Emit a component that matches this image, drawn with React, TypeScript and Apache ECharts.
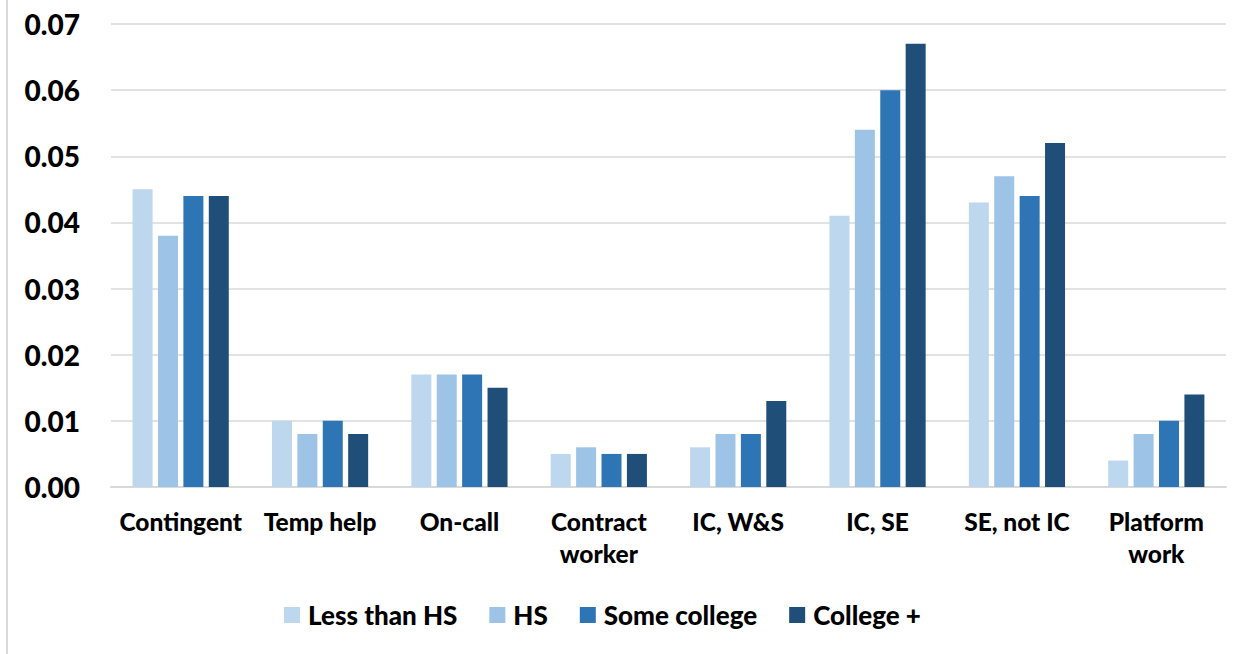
import React, { useEffect, useRef } from "react";
import * as echarts from "echarts";

const categories = [
  "Contingent",
  "Temp help",
  "On-call",
  "Contract\nworker",
  "IC, W&S",
  "IC, SE",
  "SE, not IC",
  "Platform\nwork",
];

const seriesNames = ["Less than HS", "HS", "Some college", "College +"];
const seriesColors = ["#BDD7EE", "#9DC3E6", "#2E75B6", "#1F4E79"];

const lessThanHS = [0.045, 0.01, 0.017, 0.005, 0.006, 0.041, 0.043, 0.004];
const hs = [0.038, 0.008, 0.017, 0.006, 0.008, 0.054, 0.047, 0.008];
const someCollege = [0.044, 0.01, 0.017, 0.005, 0.008, 0.06, 0.044, 0.01];
const collegePlus = [0.044, 0.008, 0.015, 0.005, 0.013, 0.067, 0.052, 0.014];

const seriesValues = [lessThanHS, hs, someCollege, collegePlus];

const FONT = "Lato, 'Liberation Sans', sans-serif";

export default function App() {
  const ref = useRef<HTMLDivElement>(null);

  useEffect(() => {
    if (!ref.current) return;
    const chart = echarts.init(ref.current, null, { renderer: "svg" });
    chart.setOption({
      animation: false,
      backgroundColor: "#ffffff",
      textStyle: { fontFamily: FONT },
      grid: { left: 111, right: 24, top: 24, bottom: 167 },
      legend: {
        data: seriesNames,
        left: 279,
        top: 597,
        itemWidth: 16,
        itemHeight: 16,
        itemGap: 32,
        icon: "rect",
        textStyle: {
          fontFamily: FONT,
          fontSize: 26,
          fontWeight: 900,
          color: "#000000",
          padding: [0, 0, 0, 3],
        },
      },
      xAxis: {
        type: "category",
        data: categories,
        axisTick: { show: false },
        axisLine: { lineStyle: { color: "#d9d9d9", width: 2 } },
        axisLabel: {
          interval: 0,
          margin: 18,
          fontFamily: FONT,
          fontSize: 24.5,
          fontWeight: 900,
          color: "#000000",
          lineHeight: 32,
        },
      },
      yAxis: {
        type: "value",
        min: 0,
        max: 0.07,
        interval: 0.01,
        axisLine: { show: false },
        axisTick: { show: false },
        splitLine: { lineStyle: { color: "#d9d9d9", width: 1.5 } },
        axisLabel: {
          margin: 31,
          fontFamily: FONT,
          fontSize: 28,
          fontWeight: 900,
          color: "#000000",
          formatter: (v: number) => v.toFixed(2),
        },
      },
      graphic: [
        {
          type: "line",
          shape: { x1: 7, y1: 0, x2: 7, y2: 654 },
          style: { stroke: "#d9d9d9", lineWidth: 2 },
        },
      ],
      series: seriesNames.map((name, i) => ({
        name,
        type: "bar",
        data: seriesValues[i],
        barWidth: 20,
        barGap: "27%",
        itemStyle: { color: seriesColors[i] },
      })),
    });
    return () => chart.dispose();
  }, []);

  return (
    <div
      ref={ref}
      style={{ position: "fixed", left: 0, top: 0, width: 1250, height: 654 }}
    />
  );
}
